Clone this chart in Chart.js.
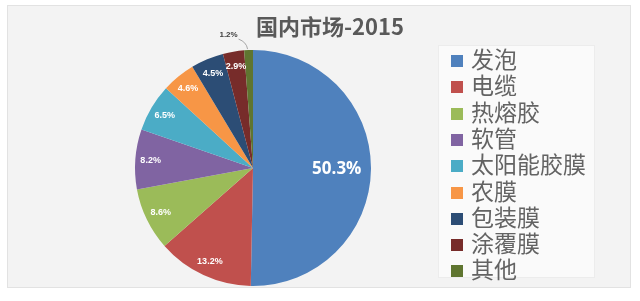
<!DOCTYPE html>
<html>
<head>
<meta charset="utf-8">
<script src="https://cdn.jsdelivr.net/npm/chart.js@4"></script>
<style>
  html, body { margin: 0; padding: 0; background: #fff; }
  #wrap { position: relative; width: 640px; height: 301px; overflow: hidden; }
  #panel { position: absolute; left: 7px; top: 5px; width: 622px; height: 281px;
           background: #f3f3f3; border: 1px solid #e2e2e2; }
  #title { position: absolute; left: 230px; width: 200px; top: 11px; text-align: center;
           font: bold 22px "Noto Sans CJK SC", "Noto Sans", sans-serif; color: #595959; line-height: 28px; }
  #legend { position: absolute; left: 438px; top: 45px; width: 157px; height: 233px;
            background: #fafafa; border: 1px solid #ececec; box-sizing: border-box; }
  .item { position: absolute; left: 12px; height: 26px; line-height: 26px;
          font: 23px "Noto Sans CJK SC", sans-serif; color: #636363; white-space: nowrap; }
  .item span { display: inline-block; width: 12px; height: 12px; margin-right: 8px; vertical-align: 1px; }
  canvas { position: absolute; left: 0; top: 0; }
</style>
</head>
<body>
<div id="wrap">
  <div id="panel"></div>
  <canvas id="pie" width="640" height="301"></canvas>
  <div id="title">国内市场-2015</div>
  <div id="legend"></div>
</div>
<script>
var categories = ['发泡', '电缆', '热熔胶', '软管', '太阳能胶膜', '农膜', '包装膜', '涂覆膜', '其他'];
var shares = [50.3, 13.2, 8.6, 8.2, 6.5, 4.6, 4.5, 2.9, 1.2];
var colors = ['#4f81bd', '#c0504d', '#9bbb59', '#8064a2', '#4bacc6', '#f79646', '#2c4d75', '#772c2a', '#5f7530'];

// legend
var legend = document.getElementById('legend');
for (let i = 0; i < categories.length; i++) {
  var div = document.createElement('div');
  div.className = 'item';
  div.style.top = (-5 + i * 26.3) + 'px';
  div.innerHTML = '<span style="background:' + colors[i] + '"></span>' + categories[i];
  legend.appendChild(div);
}

// slice labels
var sliceLabels = {
  id: 'sliceLabels',
  afterDatasetsDraw: function (chart) {
    var ctx = chart.ctx;
    var arcs = chart.getDatasetMeta(0).data;
    ctx.save();
    ctx.textAlign = 'center';
    ctx.textBaseline = 'middle';
    for (let i = 0; i < arcs.length; i++) {
      var a = arcs[i];
      var mid = (a.startAngle + a.endAngle) / 2;
      var text = shares[i].toFixed(1) + '%';
      if (shares[i] < 2) {
        // outside label with leader line
        var ex = a.x + Math.cos(mid) * a.outerRadius;
        var ey = a.y + Math.sin(mid) * a.outerRadius;
        var lx = ex - 20, ly = ey - 15;
        ctx.strokeStyle = '#a6a6a6';
        ctx.lineWidth = 1;
        ctx.beginPath();
        ctx.moveTo(ex - 1, ey - 1);
        ctx.quadraticCurveTo(ex - 2, ey - 8, lx + 10, ly + 4);
        ctx.stroke();
        ctx.fillStyle = '#404040';
        ctx.font = 'bold 8px "Liberation Sans", Arial, sans-serif';
        ctx.fillText(text, lx, ly);
        continue;
      }
      var big = shares[i] > 40;
      var r = a.outerRadius * (big ? 0.71 : 0.87);
      ctx.fillStyle = '#ffffff';
      ctx.font = big ? 'bold 17px "Open Sans", sans-serif' : 'bold 9px "Liberation Sans", Arial, sans-serif';
      ctx.fillText(text, a.x + Math.cos(mid) * r, a.y + Math.sin(mid) * r);
    }
    ctx.restore();
  }
};

var chart = new Chart(document.getElementById('pie'), {
  type: 'pie',
  data: {
    labels: categories,
    datasets: [{
      data: shares,
      backgroundColor: colors,
      borderWidth: 0
    }]
  },
  options: {
    responsive: false,
    animation: false,
    layout: { padding: { left: 135, right: 269, top: 50, bottom: 15 } },
    plugins: {
      legend: { display: false },
      tooltip: { enabled: false }
    }
  },
  plugins: [sliceLabels]
});
</script>
</body>
</html>
